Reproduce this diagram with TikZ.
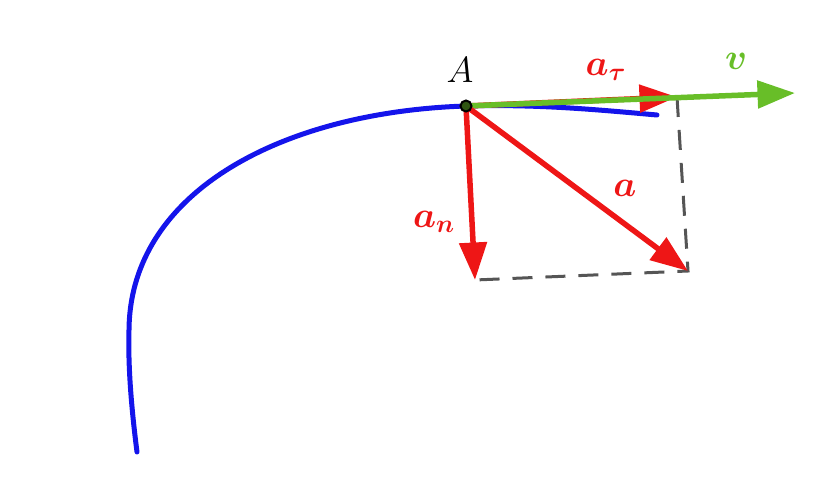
\documentclass[tikz,border=0pt]{standalone}
\usepackage{amsmath, amssymb, bm}
\usepackage{tikz}
\usetikzlibrary{positioning, arrows.meta, calc}
\definecolor{pathB}{RGB}{20,20,235}
\definecolor{accR}{RGB}{238,22,22}
\definecolor{velG}{RGB}{104,190,40}
\definecolor{dashK}{RGB}{85,85,85}
\tikzstyle{vecarr} = [-{Triangle[length=7.5mm,width=5.4mm]}, line width=1.1mm]

\begin{document}
\begin{tikzpicture}[
  x=0.2mm, y=-0.2mm,
  font=\fontsize{20}{24}\selectfont,
  acc/.style={vecarr, draw=accR, fill=accR},
  vel/.style={vecarr, draw=velG, fill=velG},
  traj/.style={draw=pathB, line width=1mm, line cap=round},
  guide/.style={draw=dashK, line width=0.6mm, dash pattern=on 4mm off 2.6mm},
  lblR/.style={text=accR, inner sep=1pt},
  lblG/.style={text=velG, inner sep=1pt}
]
\useasboundingbox (0,0) rectangle (839,477);
\coordinate (A)   at (466,106);
\coordinate (at)  at (677,97);
\coordinate (v)   at (795,93);
\coordinate (an)  at (475,280);
\coordinate (acc) at (688,271);
% trajectory
\draw[traj] (137,452) .. controls (131,405) and (128,365) .. (129,330)
  .. controls (130,192) and (282,112) .. (A)
  .. controls (540,104) and (600,110) .. (657,115);
% parallelogram of components
\draw[guide] (at) -- (acc) -- (an);
\draw[acc] (A) -- (at);
\draw[vel] (A) -- (v);
\draw[acc] (A) -- (an);
\draw[acc] (A) -- (acc);
\node[circle, draw=black, line width=0.4mm, fill=velG!45!black,
      inner sep=0pt, minimum size=2.2mm] (dotA) at (A) {};
\node (lblA) at (460,70) {$A$};
\node[lblR] (lblat) at (606,70) {$\bm{a}_{\bm{\tau}}$};
\node[lblG] (lblv) at (736,61) {$\bm{v}$};
\node[lblR] (lbla) at (625,188) {$\bm{a}$};
\node[lblR] (lblan) at (434,222) {$\bm{a}_{\bm{n}}$};
\end{tikzpicture}
\end{document}
